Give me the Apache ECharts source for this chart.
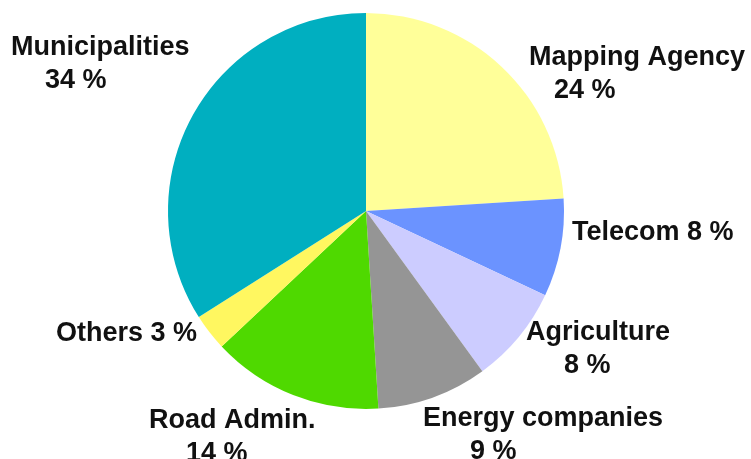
<!DOCTYPE html>
<html>
<head>
<meta charset="utf-8">
<script src="https://cdn.jsdelivr.net/npm/echarts@6/dist/echarts.min.js"></script>
<style>
html,body{margin:0;padding:0;background:#fff;}
#c{width:751px;height:459px;}
</style>
</head>
<body>
<div id="c"></div>
<script>
// Data
const categories = ['Mapping Agency', 'Telecom', 'Agriculture', 'Energy companies', 'Road Admin.', 'Others', 'Municipalities'];
const shares = [24, 8, 8, 9, 14, 3, 34];
const twoLine = [true, false, true, true, true, false, true];

// Styles / layout (not data)
const colors = ['#FFFF99', '#6B93FF', '#CCCCFF', '#959595', '#4FD900', '#FFF760', '#00AFC0'];
const labelPos = [
  {x: 529, y: 41, off: 25},
  {x: 572, y: 216, off: 0},
  {x: 526, y: 316, off: 38},
  {x: 423, y: 402, off: 47},
  {x: 149, y: 404, off: 37},
  {x: 56,  y: 317, off: 0},
  {x: 11,  y: 31,  off: 34}
];

const FONT = '"Liberation Sans", Arial, sans-serif';
const rich = {n: {fontFamily: FONT, fontWeight: 'bold', fontSize: 27, lineHeight: 33, color: '#111'}};
labelPos.forEach((p, i) => {
  rich['p' + i] = {fontFamily: FONT, fontWeight: 'bold', fontSize: 27, lineHeight: 33, color: '#111', padding: [0, 0, 0, p.off]};
});

const chart = echarts.init(document.getElementById('c'), null, {renderer: 'canvas'});
chart.setOption({
  backgroundColor: '#ffffff',
  animation: false,
  series: [{
    type: 'pie',
    center: [366, 211],
    radius: 198,
    startAngle: 90,
    clockwise: true,
    avoidLabelOverlap: false,
    silent: true,
    itemStyle: {borderWidth: 0},
    label: {
      show: true,
      position: 'outside',
      align: 'left',
      verticalAlign: 'top',
      formatter: function (params) {
        const i = params.dataIndex;
        if (twoLine[i]) {
          return '{n|' + params.name + '}\n{p' + i + '|' + params.value + ' %}';
        }
        return '{n|' + params.name + ' ' + params.value + ' %}';
      },
      rich: rich
    },
    labelLine: {show: false},
    labelLayout: function (params) {
      const p = labelPos[params.dataIndex];
      return {x: p.x, y: p.y, align: 'left', verticalAlign: 'top'};
    },
    emphasis: {disabled: true},
    data: categories.map((c, i) => ({name: c, value: shares[i], itemStyle: {color: colors[i]}}))
  }]
});
</script>
</body>
</html>
